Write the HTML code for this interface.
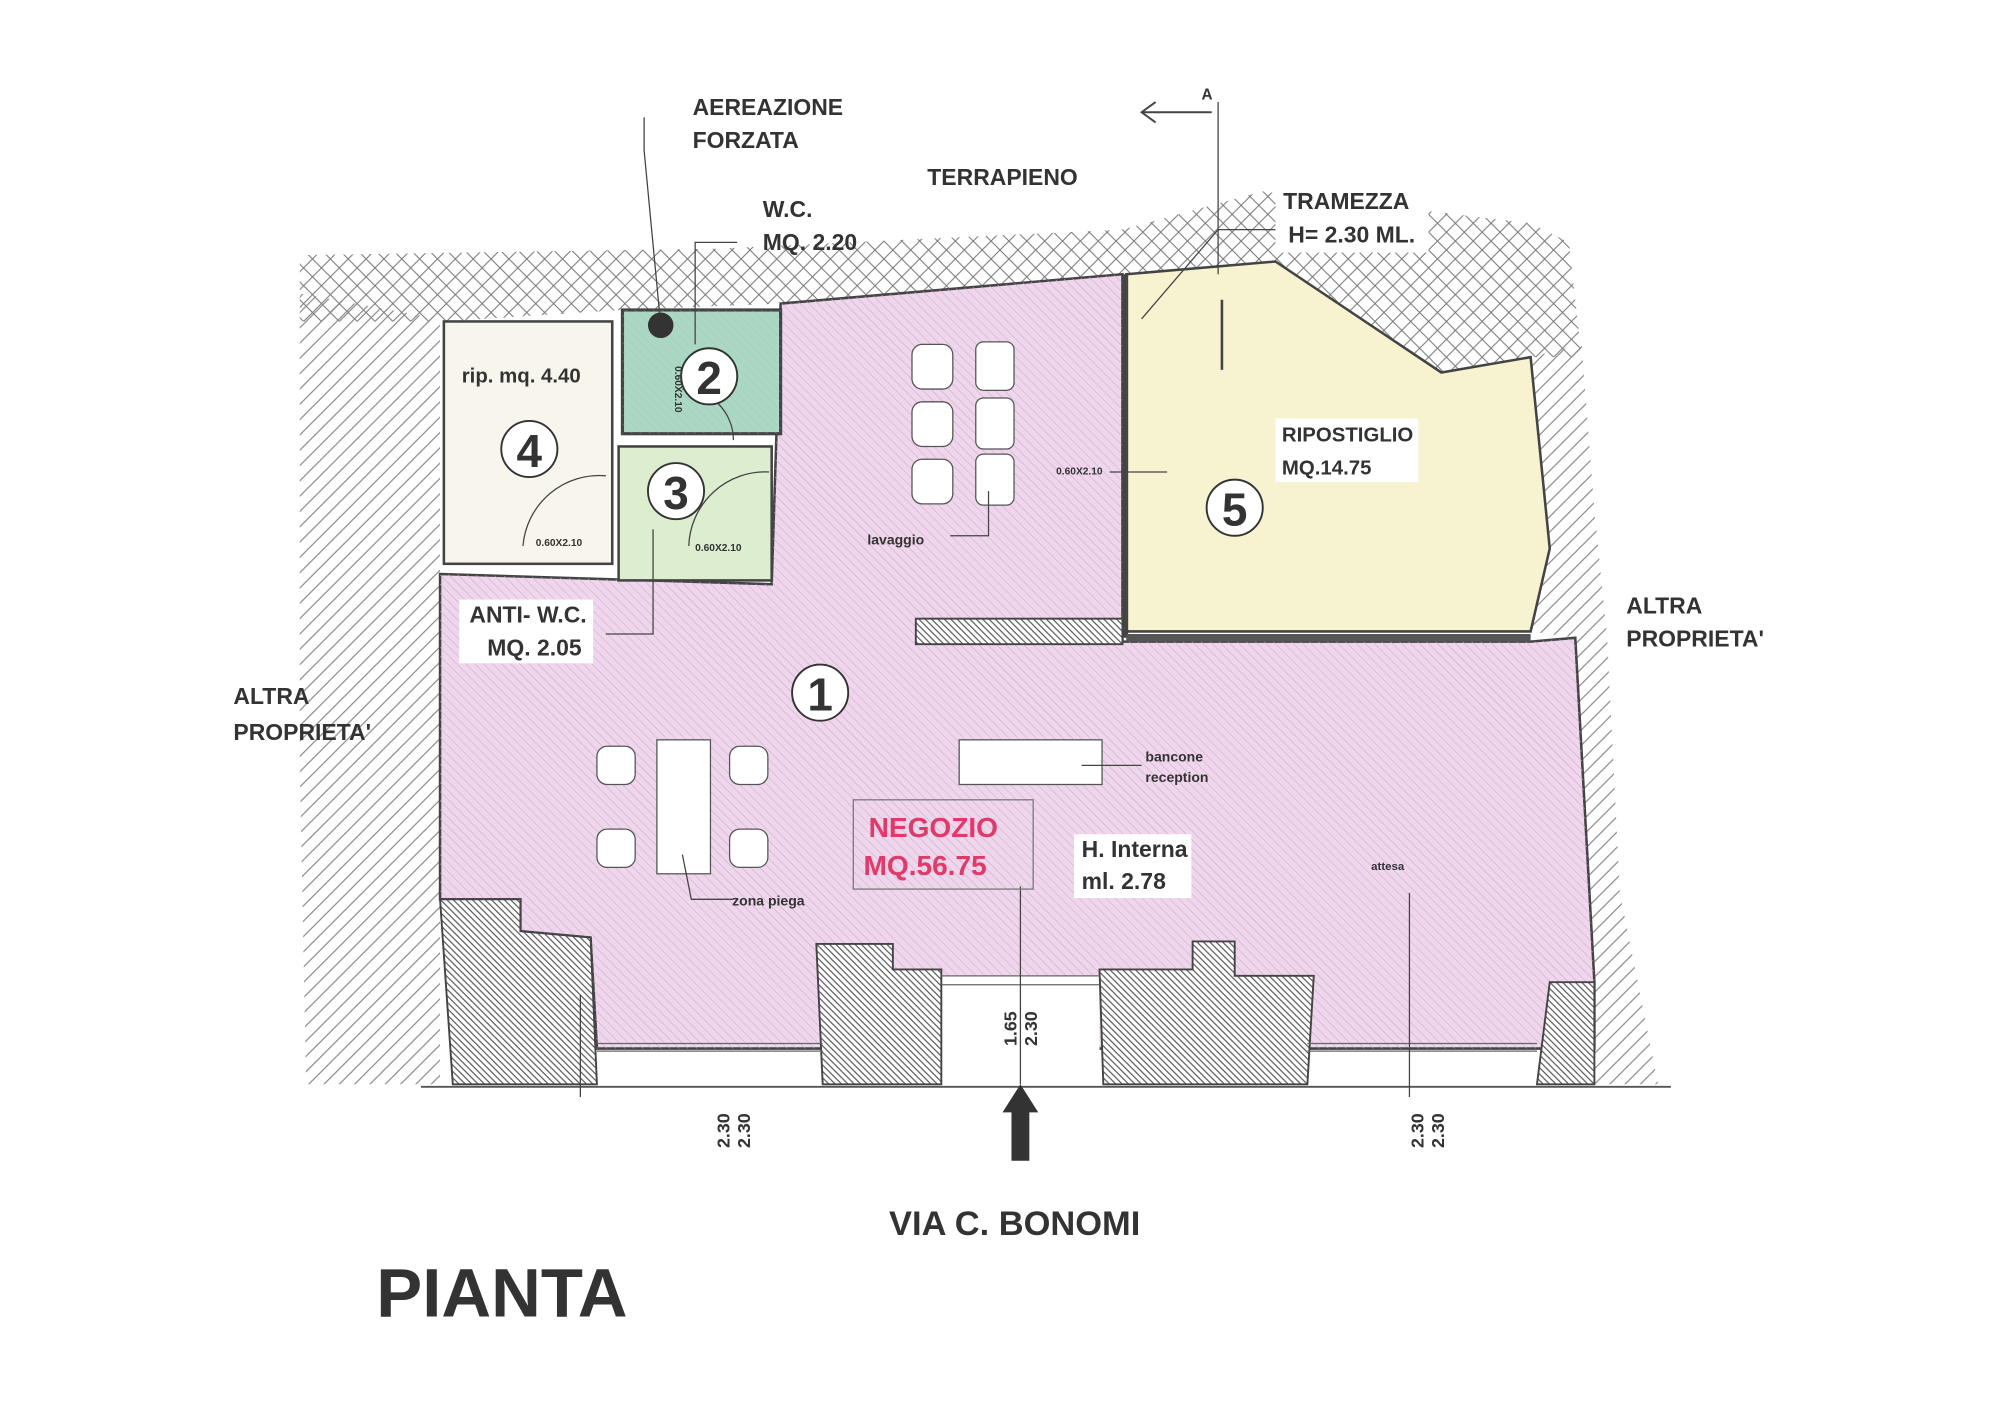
<!DOCTYPE html>
<html><head><meta charset="utf-8"><style>
html,body{margin:0;padding:0;background:#fff;}
svg{display:block;}
text{font-family:"Liberation Sans",sans-serif;font-weight:bold;fill:#333;}
</style></head><body>
<svg width="2000" height="1407" viewBox="0 0 1568 1103" preserveAspectRatio="none" xmlns="http://www.w3.org/2000/svg">
<defs>
<pattern id="cross" width="14" height="14" patternUnits="userSpaceOnUse">
<path d="M0,0L14,14M14,0L0,14" stroke="#777" stroke-width="0.8"/>
</pattern>
<pattern id="diag" width="12" height="12" patternUnits="userSpaceOnUse">
<path d="M-3,3L3,-3M0,12L12,0M9,15L15,9" stroke="#888" stroke-width="0.9"/>
</pattern>
<pattern id="wall" width="5" height="5" patternUnits="userSpaceOnUse">
<rect width="5" height="5" fill="#fff"/>
<path d="M-1,-1L6,6M-1,4L1,6M4,-1L6,1" stroke="#555" stroke-width="0.9"/>
</pattern>
<pattern id="fine" width="5" height="5" patternUnits="userSpaceOnUse" patternTransform="rotate(-45)">
<line x1="0" y1="0" x2="0" y2="5" stroke="#c9a9c6" stroke-width="0.8"/>
</pattern>
</defs>
<rect width="1568" height="1103" fill="#fff"/>
<polygon points="235,200 560,195 880,180 990,150 1200,175 1230,190 1240,280 1200,280 1130,292 1000,205 880,215 612,238 487,243 348,252 235,252" fill="url(#cross)"/>
<polygon points="235,230 345,250 345,850 330,850 240,850 235,600" fill="url(#diag)"/>
<polygon points="1200,280 1240,270 1250,400 1260,500 1270,700 1300,850 1250,850 1250,770 1235,500 1200,495 1215,430" fill="url(#diag)"/>
<polygon points="345,450 605,458 612,238 880,215 880,503 1200,503 1235,500 1250,770 1250,822 468,822 463,735 408,730 408,705 345,705" fill="#efd6ec" stroke="#444" stroke-width="2"/>
<polygon points="345,450 605,458 612,238 880,215 880,503 1200,503 1235,500 1250,770 1250,822 468,822 463,735 408,730 408,705 345,705" fill="url(#fine)"/>
<rect x="738" y="765" width="124" height="85" fill="#fff"/>
<rect x="348" y="252" width="132" height="190" fill="#f8f6ec" stroke="#444" stroke-width="2"/>
<rect x="488" y="243" width="124" height="97" fill="#a9d9c2" stroke="#444" stroke-width="2.5"/>
<rect x="488" y="243" width="124" height="97" fill="url(#fine)" opacity="0.5"/>
<rect x="485" y="350" width="120" height="105" fill="#dcedd0" stroke="#444" stroke-width="2"/>
<polygon points="883,215 1000,205 1130,292 1200,280 1215,430 1200,495 883,495" fill="#f7f2cf" stroke="#444" stroke-width="2"/>
<line x1="882" y1="215" x2="882" y2="500" stroke="#444" stroke-width="5"/>
<line x1="883" y1="500" x2="1200" y2="500" stroke="#555" stroke-width="6"/>
<rect x="718" y="485" width="162" height="20" fill="url(#wall)" stroke="#444" stroke-width="1.5"/>
<path d="M410,428 A60,60 0 0 1 475,373" fill="none" stroke="#444" stroke-width="1"/>
<path d="M540,428 A60,60 0 0 1 603,370" fill="none" stroke="#444" stroke-width="1"/>
<path d="M535,305 A40,40 0 0 1 575,345" fill="none" stroke="#444" stroke-width="1"/>
<text x="420" y="428" font-size="8">0.60X2.10</text>
<text x="545" y="432" font-size="8">0.60X2.10</text>
<text x="828" y="372" font-size="8">0.60X2.10</text>
<line x1="870" y1="370" x2="915" y2="370" stroke="#444" stroke-width="1"/>
<polygon points="345,705 408,705 408,730 463,735 468,850 355,850" fill="url(#wall)" stroke="#444" stroke-width="1.5"/>
<polygon points="640,740 700,740 700,760 738,760 738,850 645,850" fill="url(#wall)" stroke="#444" stroke-width="1.5"/>
<polygon points="862,760 935,760 935,738 968,738 968,765 1030,765 1025,850 865,850" fill="url(#wall)" stroke="#444" stroke-width="1.5"/>
<polygon points="1215,770 1250,770 1250,850 1205,850" fill="url(#wall)" stroke="#444" stroke-width="1.5"/>
<line x1="468" y1="818" x2="645" y2="818" stroke="#666" stroke-width="1"/>
<line x1="468" y1="824" x2="645" y2="824" stroke="#666" stroke-width="1"/>
<line x1="738" y1="765" x2="862" y2="765" stroke="#666" stroke-width="1"/>
<line x1="738" y1="772" x2="862" y2="772" stroke="#666" stroke-width="1"/>
<line x1="1025" y1="818" x2="1205" y2="818" stroke="#666" stroke-width="1"/>
<line x1="1025" y1="824" x2="1205" y2="824" stroke="#666" stroke-width="1"/>
<line x1="330" y1="852" x2="1310" y2="852" stroke="#555" stroke-width="1.5"/>
<g fill="#fff" stroke="#555" stroke-width="1">
<rect x="515" y="580" width="42" height="105"/>
<rect x="752" y="580" width="112" height="35"/>
<rect x="468" y="585" width="30" height="30" rx="8"/><rect x="572" y="585" width="30" height="30" rx="8"/>
<rect x="468" y="650" width="30" height="30" rx="8"/><rect x="572" y="650" width="30" height="30" rx="8"/>
<rect x="715" y="270" width="32" height="35" rx="8"/><rect x="715" y="315" width="32" height="35" rx="8"/><rect x="715" y="360" width="32" height="35" rx="8"/>
<rect x="765" y="268" width="30" height="38" rx="6"/><rect x="765" y="312" width="30" height="40" rx="6"/><rect x="765" y="356" width="30" height="40" rx="6"/>
</g>
<g fill="#fff">
<rect x="1000" y="148" width="120" height="50"/>
<rect x="1000" y="328" width="112" height="50"/>
<rect x="360" y="470" width="105" height="50"/>
<rect x="842" y="654" width="92" height="50"/>
</g>
<g stroke="#444" stroke-width="1" fill="none">
<polyline points="505,92 505,118 518,255"/>
<polyline points="578,190 545,190 545,270"/>
<polyline points="1000,180 955,180 895,250"/>
<polyline points="955,80 955,215"/>
<line x1="958" y1="235" x2="958" y2="290" stroke-width="2"/>
<polyline points="475,497 512,497 512,415"/>
<polyline points="745,420 775,420 775,385"/>
<polyline points="895,600 848,600"/>
<polyline points="575,705 542,705 535,670"/>
<polyline points="800,695 800,850"/>
<polyline points="1105,700 1105,860"/>
<line x1="455" y1="780" x2="455" y2="860"/>
<line x1="895" y1="88" x2="950" y2="88" stroke-width="1.5"/>
<polyline points="906,80 895,88 906,96" stroke-width="1.5"/>
</g>
<circle cx="518" cy="255" r="10" fill="#333"/>
<polygon points="800,850 786,872 793,872 793,910 807,910 807,872 814,872" fill="#333"/>
<g fill="#fff" stroke="#333" stroke-width="1.5">
<circle cx="415" cy="352" r="22"/><circle cx="556" cy="295" r="22"/><circle cx="530" cy="385" r="22"/>
<circle cx="643" cy="543" r="22"/><circle cx="968" cy="398" r="22"/>
</g>
<g font-size="36" text-anchor="middle" font-weight="normal">
<text x="415" y="366">4</text><text x="556" y="309">2</text><text x="530" y="399">3</text>
<text x="643" y="557">1</text><text x="968" y="412">5</text>
</g>
<g font-size="18">
<text x="543" y="90">AEREAZIONE</text><text x="543" y="116">FORZATA</text>
<text x="727" y="145">TERRAPIENO</text>
<text x="598" y="170">W.C.</text><text x="598" y="196">MQ. 2.20</text>
<text x="1006" y="164">TRAMEZZA</text><text x="1010" y="190">H= 2.30 ML.</text>
<text x="368" y="488">ANTI- W.C.</text><text x="382" y="514">MQ. 2.05</text>
<text x="183" y="552">ALTRA</text><text x="183" y="580">PROPRIETA'</text>
<text x="1275" y="481">ALTRA</text><text x="1275" y="507">PROPRIETA'</text>
<text x="1005" y="346" font-size="16">RIPOSTIGLIO</text><text x="1005" y="372" font-size="16">MQ.14.75</text>
<text x="848" y="672">H. Interna</text><text x="848" y="697">ml. 2.78</text>
<text x="362" y="300" font-size="16">rip. mq. 4.40</text>
</g>
<g font-size="11">
<text x="680" y="427">lavaggio</text>
<text x="898" y="597">bancone</text><text x="898" y="613">reception</text>
<text x="574" y="710">zona piega</text>
<text x="1075" y="682" font-size="9">attesa</text>
</g>
<text x="529" y="287" font-size="8" transform="rotate(90 529 287)">0.60X2.10</text>
<rect x="669" y="627" width="141" height="70" fill="none" stroke="#777" stroke-width="1"/>
<text x="681" y="656" font-size="22" style="fill:#e03a6a">NEGOZIO</text>
<text x="677" y="686" font-size="22" style="fill:#e03a6a">MQ.56.75</text>
<text x="942" y="78" font-size="12">A</text>
<g font-size="14">
<text transform="translate(797,820) rotate(-90)">1.65</text>
<text transform="translate(813,820) rotate(-90)">2.30</text>
<text transform="translate(572,900) rotate(-90)">2.30</text>
<text transform="translate(588,900) rotate(-90)">2.30</text>
<text transform="translate(1116,900) rotate(-90)">2.30</text>
<text transform="translate(1132,900) rotate(-90)">2.30</text>
</g>
<text x="697" y="968" font-size="27" font-weight="normal">VIA C. BONOMI</text>
<text x="295" y="1032" font-size="54" font-weight="normal">PIANTA</text>
</svg>
</body></html>
